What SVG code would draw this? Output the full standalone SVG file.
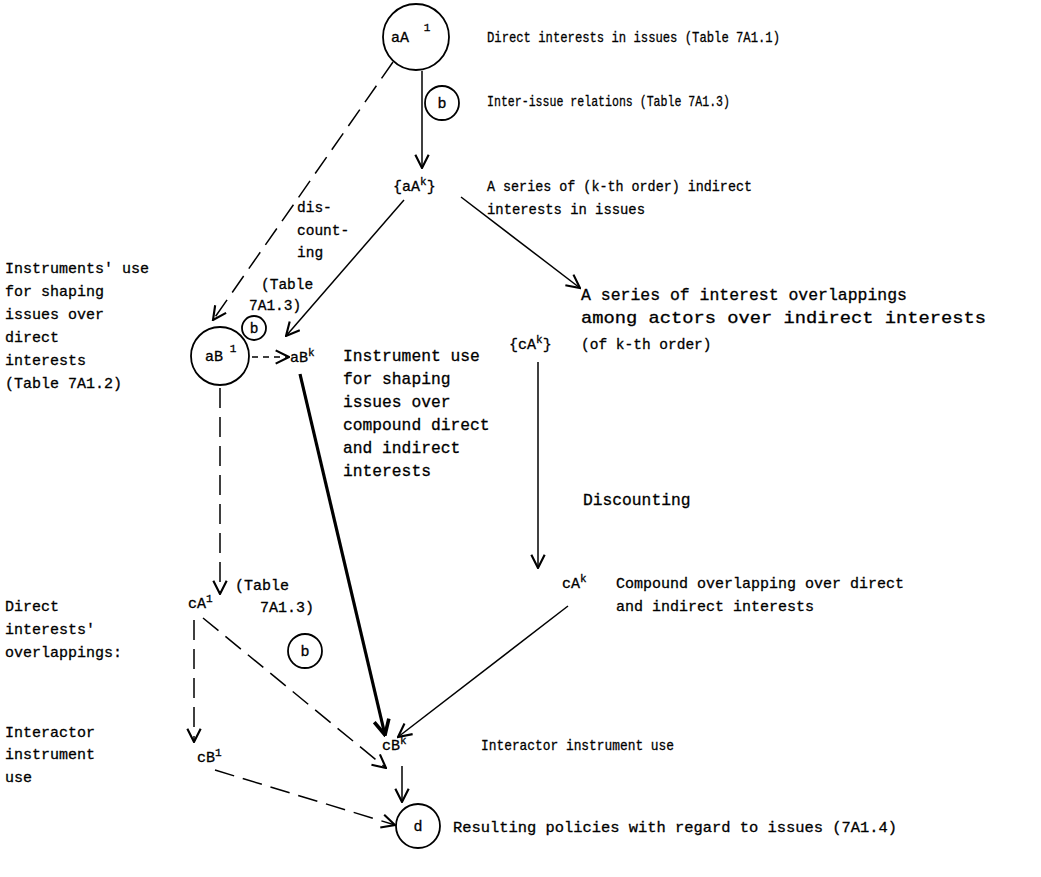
<svg xmlns="http://www.w3.org/2000/svg" width="1041" height="877" viewBox="0 0 1041 877">
  <style>
    text { font-family: "Liberation Mono", "Courier New", monospace; font-size: 15px; fill: #000; stroke: #000; stroke-width: 0.3; }
    .s14 { font-size: 14.5px; }
    .s15 { font-size: 15px; }
    .s16 { font-size: 16.3px; }
    .s17 { font-size: 17px; }
    .sup { font-size: 11px; }
    .mid { text-anchor: middle; }
    .ln { stroke: #000; stroke-width: 1.5; fill: none; }
    .dash { stroke-dasharray: 20 9; }
    .thick { stroke-width: 3.2; }
    .ring { fill: #fff; stroke: #000; stroke-width: 1.8; }
  </style>
  <defs>
    <marker id="arrow" markerUnits="userSpaceOnUse" markerWidth="16" markerHeight="16" viewBox="0 0 12 12" refX="11" refY="6" orient="auto">
      <path d="M1,1 L11,6 L1,11" fill="none" stroke="#000" stroke-width="1.6"/>
    </marker>
    <marker id="arrowBold" markerUnits="userSpaceOnUse" markerWidth="18" markerHeight="18" viewBox="0 0 12 12" refX="11" refY="6" orient="auto">
      <path d="M1,1 L11,6 L1,11" fill="none" stroke="#000" stroke-width="2.4"/>
    </marker>
  </defs>

  <!-- connectors -->
  <g id="connectors">
    <line class="ln" x1="422" y1="71" x2="422" y2="168" marker-end="url(#arrow)"/>
    <line class="ln dash" x1="393" y1="62" x2="213" y2="320" marker-end="url(#arrow)"/>
    <line class="ln" x1="404" y1="200" x2="286" y2="336" marker-end="url(#arrow)"/>
    <line class="ln" x1="461" y1="197" x2="580" y2="288" marker-end="url(#arrow)"/>
    <line class="ln" x1="252" y1="357" x2="289" y2="357" stroke-dasharray="6 5" marker-end="url(#arrow)"/>
    <line class="ln dash" x1="220" y1="388" x2="220" y2="594" marker-end="url(#arrow)"/>
    <line class="ln" x1="538" y1="362" x2="538" y2="568" marker-end="url(#arrow)"/>
    <line class="ln thick" x1="300" y1="374" x2="385" y2="735" marker-end="url(#arrowBold)"/>
    <line class="ln dash" x1="203" y1="618" x2="386" y2="768" marker-end="url(#arrow)"/>
    <line class="ln dash" x1="194" y1="620" x2="194" y2="742" marker-end="url(#arrow)"/>
    <line class="ln" x1="568" y1="606" x2="398" y2="737" marker-end="url(#arrow)"/>
    <line class="ln dash" x1="215" y1="770" x2="395" y2="825" marker-end="url(#arrow)"/>
    <line class="ln" x1="402" y1="766" x2="402" y2="802" marker-end="url(#arrow)"/>
  </g>

  <!-- direct interests -->
  <g id="node-aA1">
    <circle class="ring" cx="416" cy="37" r="33"/>
    <text x="400" y="42" class="s15 mid">aA</text>
    <text x="427" y="31" class="sup mid">1</text>
    <text x="487" y="42" textLength="293" lengthAdjust="spacingAndGlyphs">Direct interests in issues (Table 7A1.1)</text>
  </g>

  <g id="node-b-top">
    <circle class="ring" cx="442" cy="103" r="17"/>
    <text x="442" y="108" class="s15 mid">b</text>
    <text x="487" y="106" textLength="243" lengthAdjust="spacingAndGlyphs">Inter-issue relations (Table 7A1.3)</text>
  </g>

  <g id="node-aAk">
    <text x="393" y="191" class="s15">{aA<tspan class="sup" dy="-6">k</tspan><tspan dy="6">}</tspan></text>
    <text x="487" y="191" textLength="265" lengthAdjust="spacingAndGlyphs">A series of (k-th order) indirect</text>
    <text x="487" y="214" textLength="158" lengthAdjust="spacingAndGlyphs">interests in issues</text>
  </g>

  <g id="label-discounting-left">
    <text x="297" y="212" class="s14">dis-</text>
    <text x="297" y="235" class="s14">count-</text>
    <text x="297" y="257" class="s14">ing</text>
  </g>

  <g id="node-aB1">
    <circle class="ring" cx="220" cy="356" r="29"/>
    <text x="214" y="361" class="s15 mid">aB</text>
    <text x="233" y="352" class="sup mid">1</text>
    <text x="5" y="273" class="s15">Instruments' use</text>
    <text x="5" y="296" class="s15">for shaping</text>
    <text x="5" y="319" class="s15">issues over</text>
    <text x="5" y="342" class="s15">direct</text>
    <text x="5" y="365" class="s15">interests</text>
    <text x="5" y="388" class="s15">(Table 7A1.2)</text>
  </g>

  <g id="node-b-mid">
    <text x="261" y="289" class="s14">(Table</text>
    <text x="249" y="310" class="s14">7A1.3)</text>
    <circle class="ring" cx="254" cy="328" r="12"/>
    <text x="254" y="333" class="s14 mid">b</text>
  </g>

  <g id="node-aBk">
    <text x="290" y="362" class="s15">aB<tspan class="sup" dy="-6">k</tspan></text>
    <text x="343" y="361" class="s16">Instrument use</text>
    <text x="343" y="384" class="s16">for shaping</text>
    <text x="343" y="407" class="s16">issues over</text>
    <text x="343" y="430" class="s16">compound direct</text>
    <text x="343" y="453" class="s16">and indirect</text>
    <text x="343" y="476" class="s16">interests</text>
  </g>

  <g id="node-cAk-set">
    <text x="509" y="349" class="s15">{cA<tspan class="sup" dy="-6">k</tspan><tspan dy="6">}</tspan></text>
    <text x="581" y="300" class="s16" textLength="326" lengthAdjust="spacingAndGlyphs">A series of interest overlappings</text>
    <text x="581" y="323" class="s16" textLength="405" lengthAdjust="spacingAndGlyphs">among actors over indirect interests</text>
    <text x="581" y="349" class="s14">(of k-th order)</text>
  </g>

  <g id="label-discounting-right">
    <text x="583" y="505" class="s16">Discounting</text>
  </g>

  <g id="node-cAk">
    <text x="562" y="588" class="s15">cA<tspan class="sup" dy="-6">k</tspan></text>
    <text x="616" y="588" class="s15">Compound overlapping over direct</text>
    <text x="616" y="611" class="s15">and indirect interests</text>
  </g>

  <g id="node-cA1">
    <text x="188" y="608" class="s15">cA<tspan class="sup" dy="-6">1</tspan></text>
    <text x="5" y="611" class="s15">Direct</text>
    <text x="5" y="634" class="s15">interests'</text>
    <text x="5" y="657" class="s15">overlappings:</text>
    <text x="235" y="590" class="s15">(Table</text>
    <text x="260" y="612" class="s15">7A1.3)</text>
  </g>

  <g id="node-b-low">
    <circle class="ring" cx="305" cy="651" r="17"/>
    <text x="305" y="656" class="s15 mid">b</text>
  </g>

  <g id="node-cB1">
    <text x="197" y="762" class="s15">cB<tspan class="sup" dy="-6">1</tspan></text>
    <text x="5" y="737" class="s15">Interactor</text>
    <text x="5" y="759" class="s15">instrument</text>
    <text x="5" y="782" class="s15">use</text>
  </g>

  <g id="node-cBk">
    <text x="382" y="750" class="s15">cB<tspan class="sup" dy="-6">k</tspan></text>
    <text x="481" y="750" textLength="193" lengthAdjust="spacingAndGlyphs">Interactor instrument use</text>
  </g>

  <g id="node-d">
    <circle class="ring" cx="418" cy="826" r="22"/>
    <text x="418" y="831" class="s15 mid">d</text>
    <text x="453" y="832" textLength="444" lengthAdjust="spacingAndGlyphs">Resulting policies with regard to issues (7A1.4)</text>
  </g>
</svg>
